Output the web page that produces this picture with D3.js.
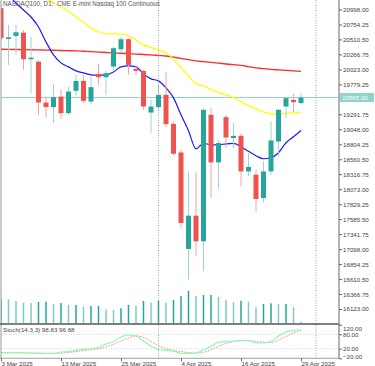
<!DOCTYPE html>
<html><head><meta charset="utf-8">
<script src="https://cdn.jsdelivr.net/npm/d3@7"></script>
<style>
html,body{margin:0;padding:0;background:#fff;overflow:hidden}
svg{display:block;font-family:"Liberation Sans",Arial,sans-serif}
</style></head><body>
<svg id="c" width="375" height="366"></svg>
<script>
// ---- data ----
const dates = ["3 Mar","4 Mar","5 Mar","6 Mar","7 Mar","10 Mar","11 Mar","12 Mar","13 Mar","14 Mar",
 "17 Mar","18 Mar","19 Mar","20 Mar","21 Mar","24 Mar","25 Mar","26 Mar","27 Mar","28 Mar",
 "31 Mar","1 Apr","2 Apr","3 Apr","4 Apr","7 Apr","8 Apr","9 Apr","10 Apr","11 Apr",
 "14 Apr","15 Apr","16 Apr","17 Apr","21 Apr","22 Apr","23 Apr","24 Apr","25 Apr","28 Apr","29 Apr"];
const open  = [21020,20519,20567,20621,20189,20150,19484,19409,19581,19311,19674,19836,19500,19950,19896,20069,20351,20514,20031,19999,19321,19409,19609,19137,18671,17101,17642,17225,19284,18509,19246,18905,18942,18362,18309,17930,18362,18850,19419,19527,19474];
const high  = [21080,20746,20746,20665,20556,20177,19581,19787,19701,19744,19934,19934,19906,20112,20003,20393,20551,20535,20096,20015,19527,19771,19987,19175,18715,18362,18362,19393,19393,18877,19284,19154,18975,18661,18390,18525,19175,19381,19576,19625,19636];
const low   = [20500,20096,20259,20015,19636,19284,19235,19149,19214,19284,19581,19474,19462,19771,19609,20015,20291,19934,19934,19365,18991,19365,19089,18622,17442,16602,16981,16737,17930,18076,18743,18743,18119,18281,17712,17859,18309,18606,19230,19321,19462];
const close = [20530,20546,20628,20189,20215,19484,19409,19571,19311,19662,19836,19511,19734,19896,19961,20368,20514,20096,19999,19419,19419,19609,19132,18650,17524,17642,17225,19365,18509,18824,18915,18942,18362,18434,17914,18362,18866,19365,19555,19490,19565];
const volume = [24,23.7,22,20.3,20,21,21.3,19,20,18,18,16.3,17,17,13.7,13,14.7,18,17.3,22,20.3,22,20.3,23,27,32.3,27,28,28,26.3,23,20.7,22.3,21.3,15.7,19,19.7,19,19,15.7,1.3];
const maFast = [null,21234,21104,20990,20876,20714,20470,20259,20129,20064,19999,19966,19934,19926,19934,19982,20064,20080,20064,19950,19869,19836,19722,19560,19284,19024,18731,18820,18796,18796,18812,18820,18764,18690,18617,18569,18585,18666,18829,18926,19029];
const maMid = [null,null,null,null,null,21250,21169,21104,21039,20974,20876,20795,20697,20632,20600,20600,20600,20567,20502,20421,20380,20340,20291,20194,20047,19917,19787,19755,19698,19649,19609,19568,19495,19430,19381,19332,19300,19300,19308,19316,19324];
const maSlow = [20351,20349,20347,20345,20343,20340,20337,20334,20330,20327,20324,20318,20312,20305,20298,20291,20285,20278,20272,20265,20259,20250,20242,20222,20202,20182,20161,20149,20137,20125,20112,20100,20088,20068,20047,20035,20023,20015,20007,19999,19991];
const stochK = [3,3,3,3,2,0,0,0,6,8,13,17,20,25,40,49,69,77,73,52,31,17,13,10,1,0,2,15,29,47,49,52,55,54,44,44,50,73,90,96,98.83];
const stochD = [3,3,3,3,2,2,1,1,2,4,8,12,16,20,28,38,52,65,73,67,50,33,20,13,8,4,2,5,15,30,42,50,53,53,51,47,46,56,71,86,96.68];
const priceTicks = [20998.00,20754.25,20510.50,20266.75,20023.00,19779.25,19291.75,19048.00,18804.25,18560.50,18316.75,18073.00,17829.25,17585.50,17341.75,17098.00,16854.25,16610.50,16366.75,16123.00];
const stochTicks = [120,80,20,-20];
const dateTickIdx = [0,8,16,24,32,40];
const dateTickLabels = ["3 Mar 2025","13 Mar 2025","25 Mar 2025","4 Apr 2025","16 Apr 2025","29 Apr 2025"];
const separatorIdx = [21,42];
const lastPrice = 19565.00;

// ---- layout ----
const svg = d3.select("#c");
const plotR = 339, mainTop = 0, mainBot = 324, stTop = 324.7, stBot = 358.3;
const x = d3.scaleLinear().domain([0,45]).range([1, 338.5]);
const y = d3.scaleLinear().domain([16123,20998]).range([309,9.5]);
const yv = d3.scaleLinear().domain([0,40]).range([323,283]);
const ys = d3.scaleLinear().domain([-20,120]).range([stBot,stTop]);
const fs = 6.2;

const defs = svg.append("defs");
defs.append("clipPath").attr("id","mclip").append("rect").attr("x",1).attr("y",mainTop).attr("width",plotR-1).attr("height",mainBot-mainTop);
defs.append("clipPath").attr("id","sclip").append("rect").attr("x",1).attr("y",stTop).attr("width",plotR-1).attr("height",stBot-stTop);

const idx = d3.range(close.length);
const main = svg.append("g").attr("clip-path","url(#mclip)");

// period separators
svg.append("g").selectAll("line").data(separatorIdx).join("line")
  .attr("x1",d=>x(d)).attr("x2",d=>x(d)).attr("y1",0).attr("y2",stBot)
  .attr("stroke","#8a8a8a").attr("stroke-width",0.8).attr("stroke-dasharray","1,1.5");

// last price line
main.append("line").attr("x1",0).attr("x2",plotR).attr("y1",y(lastPrice)).attr("y2",y(lastPrice))
  .attr("stroke","#8fd3c9").attr("stroke-width",1);

// volumes
main.selectAll("rect.vol").data(idx).join("rect").attr("class","vol")
  .attr("x",i=>x(i)-0.75).attr("width",1.5)
  .attr("y",i=>yv(volume[i])).attr("height",i=>yv(0)-yv(volume[i]))
  .attr("fill",i=> (i>0 && volume[i]<volume[i-1]) ? "#7fcbc2" : "#26a69a");

// moving averages
const lineGen = arr => d3.line().defined(i=>arr[i]!=null).x(i=>x(i)).y(i=>y(arr[i])).curve(d3.curveMonotoneX)(idx);
main.append("path").attr("d",lineGen(maSlow)).attr("fill","none").attr("stroke","#ff2a2a").attr("stroke-width",1.4);
main.append("path").attr("d",lineGen(maMid)).attr("fill","none").attr("stroke","#ffff00").attr("stroke-width",1.3);
main.append("path").attr("d",lineGen(maFast)).attr("fill","none").attr("stroke","#1a1aff").attr("stroke-width",1.2);

// candles
const up = i => close[i] >= open[i];
main.selectAll("line.wick").data(idx).join("line").attr("class","wick")
  .attr("x1",i=>x(i)).attr("x2",i=>x(i)).attr("y1",i=>y(high[i])).attr("y2",i=>y(low[i]))
  .attr("stroke",i=>up(i)?"#9ad6cf":"#f7a3a2").attr("stroke-width",1);
main.selectAll("rect.body").data(idx).join("rect").attr("class","body")
  .attr("x",i=>x(i)-2.5).attr("width",5)
  .attr("y",i=>y(Math.max(open[i],close[i])))
  .attr("height",i=>Math.max(1.5, Math.abs(y(open[i])-y(close[i]))))
  .attr("fill",i=>up(i)?"#26a69a":"#ef5350");

// stochastic panel
const st = svg.append("g").attr("clip-path","url(#sclip)");
st.selectAll("line.lev").data([80,20]).join("line").attr("class","lev")
  .attr("x1",1).attr("x2",plotR).attr("y1",d=>ys(d)).attr("y2",d=>ys(d))
  .attr("stroke","#c8c8c8").attr("stroke-width",0.8).attr("stroke-dasharray","1,1.5");
const sLine = arr => d3.line().x(i=>x(i)).y(i=>ys(arr[i])).curve(d3.curveMonotoneX)(idx);
st.append("path").attr("d",sLine(stochD)).attr("fill","none").attr("stroke","#ff7b7b").attr("stroke-width",1).attr("stroke-dasharray","1.5,1.5");
st.append("path").attr("d",sLine(stochK)).attr("fill","none").attr("stroke","#7dffae").attr("stroke-width",1.1);

// frames
svg.append("line").attr("x1",1).attr("x2",1).attr("y1",0).attr("y2",stBot).attr("stroke","#9a9a9a").attr("stroke-width",1);
svg.append("line").attr("x1",0).attr("x2",plotR).attr("y1",mainBot).attr("y2",mainBot).attr("stroke","#555").attr("stroke-width",1.3);
svg.append("line").attr("x1",0).attr("x2",plotR).attr("y1",stBot).attr("y2",stBot).attr("stroke","#888").attr("stroke-width",0.8);

// price axis
const pa = svg.append("g").attr("transform",`translate(${plotR},0)`)
  .call(d3.axisRight(y).tickValues(priceTicks).tickSize(3).tickFormat(d3.format(".2f")));
pa.select(".domain").attr("d",`M0,0V${mainBot}`).attr("stroke","#666");
pa.selectAll(".tick line").attr("stroke","#666");
pa.selectAll(".tick text").attr("x",4).attr("font-size",fs).attr("fill","#444").attr("font-family","Liberation Sans, Arial");

// last price label
svg.append("rect").attr("x",plotR+1).attr("y",y(lastPrice)-4.5).attr("width",34).attr("height",9).attr("fill","#8fd3c9");
svg.append("text").attr("x",plotR+3).attr("y",y(lastPrice)+2.3).attr("font-size",fs).attr("fill","#fff").text(d3.format(".2f")(lastPrice));

// stoch axis
const sa = svg.append("g").attr("transform",`translate(${plotR},0)`)
  .call(d3.axisRight(ys).tickValues(stochTicks).tickSize(3).tickFormat(d3.format(".2f")));
sa.select(".domain").attr("d",`M0,${mainBot}V${stBot}`).attr("stroke","#666");
sa.selectAll(".tick line").attr("stroke","#666");
sa.selectAll(".tick text").attr("x",4).attr("font-size",fs).attr("fill","#444").attr("font-family","Liberation Sans, Arial")
  .attr("dy",d=> d===120 ? "0.9em" : d===-20 ? "-0.05em" : "0.32em");

// date axis
const da = svg.append("g").attr("transform",`translate(0,${stBot})`)
  .call(d3.axisBottom(x).tickValues(dateTickIdx).tickSize(3).tickFormat((d,k)=>dateTickLabels[k]));
da.select(".domain").remove();
da.selectAll(".tick line").attr("stroke","#666");
da.selectAll(".tick text").attr("text-anchor","start").attr("y",3).attr("dy","0.72em").attr("font-size",fs).attr("fill","#444").attr("font-family","Liberation Sans, Arial");

// titles
svg.append("text").attr("x",3).attr("y",5.6).attr("font-size",6.3).attr("fill","#555").text("NASDAQ100, D1:");
svg.append("text").attr("x",57).attr("y",5.6).attr("font-size",6.3).attr("fill","#555").text("CME E-mini Nasdaq 100 Continuous");
svg.append("text").attr("x",3).attr("y",332).attr("font-size",fs).attr("fill","#444").text("Stoch(14,3,3) 98.83 96.68");
</script></body></html>
